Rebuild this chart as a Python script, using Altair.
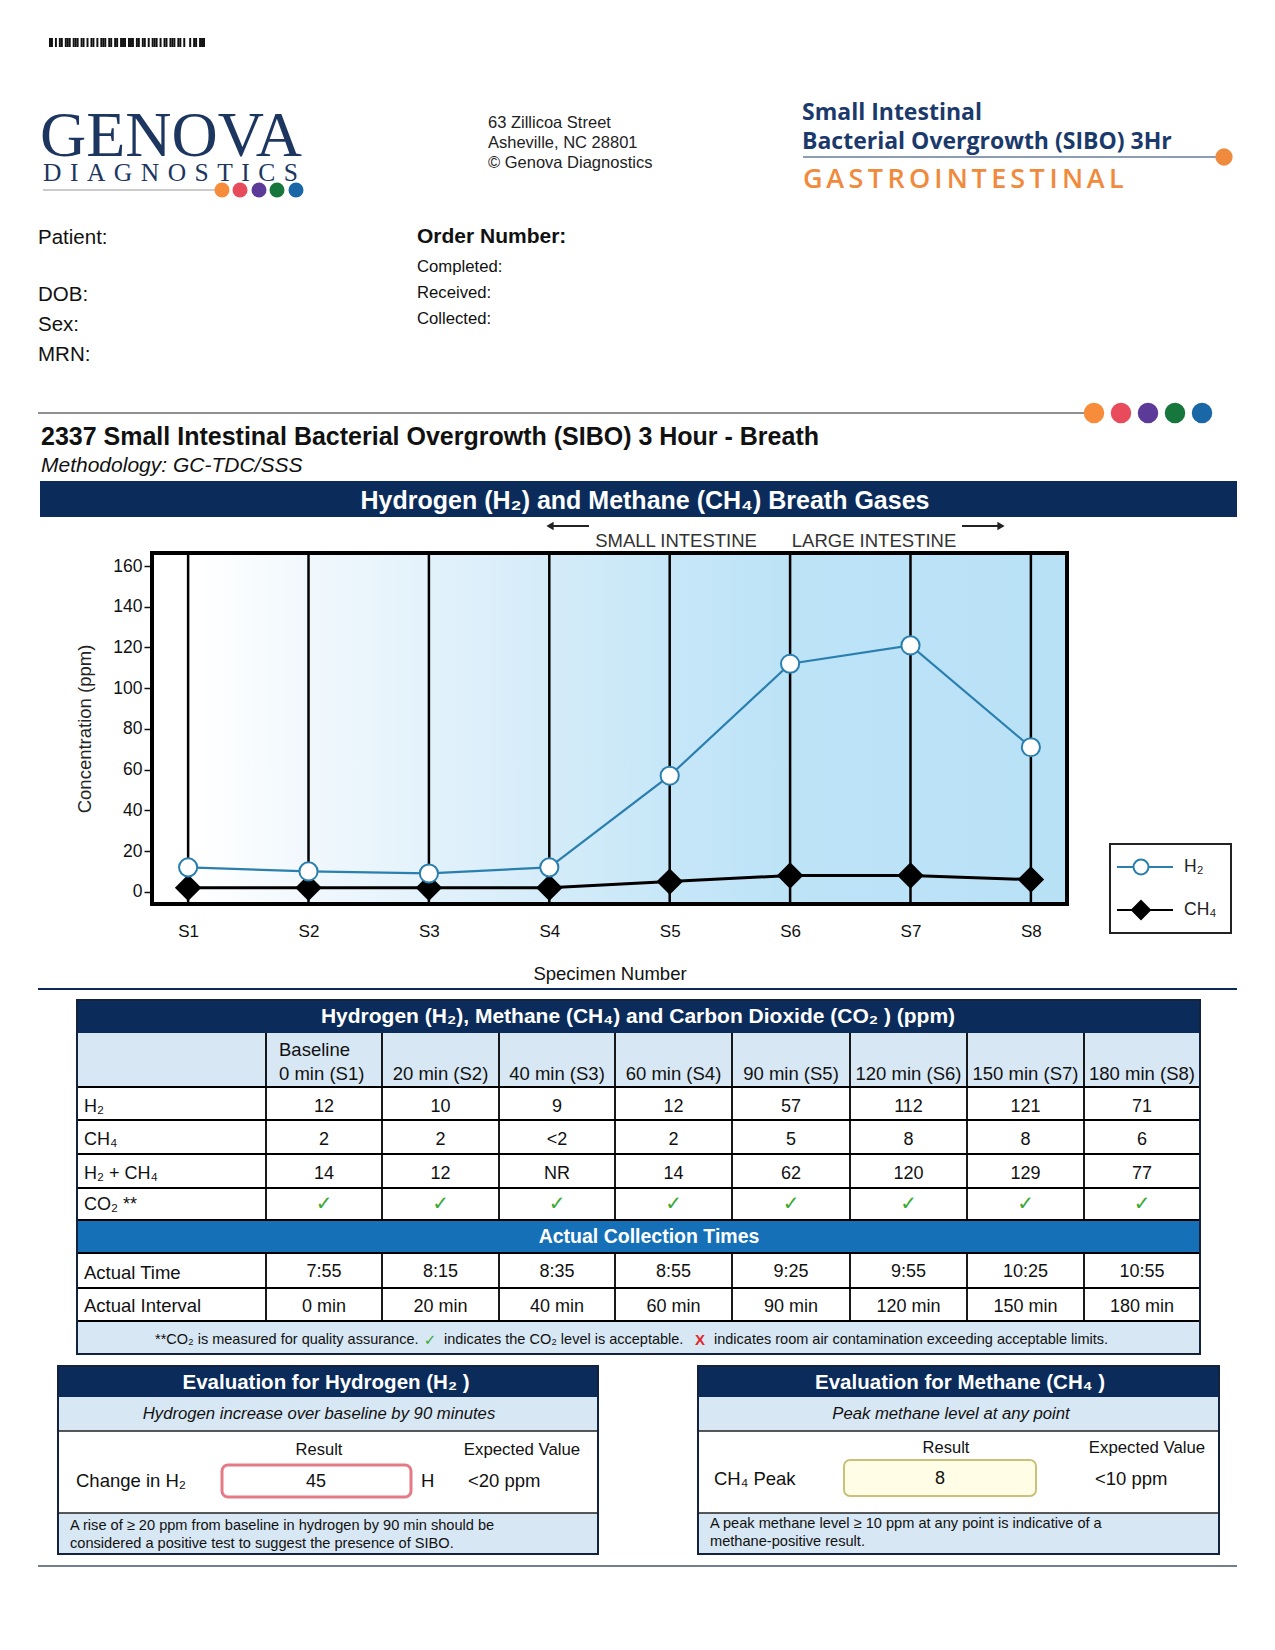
import altair as alt
import pandas as pd

# ------------------------------------------------------------------ data
specimens = ["S1", "S2", "S3", "S4", "S5", "S6", "S7", "S8"]
specimen_num = [1, 2, 3, 4, 5, 6, 7, 8]
h2_ppm = [12, 10, 9, 12, 57, 112, 121, 71]
ch4_ppm = [2, 2, 2, 2, 5, 8, 8, 6]          # S3 reported "<2", plotted at 2
series_names = ["H₂", "CH₄"]
y_tick_values = [0, 20, 40, 60, 80, 100, 120, 140, 160]

col_headers = ["0 min (S1)", "20 min (S2)", "40 min (S3)", "60 min (S4)",
               "90 min (S5)", "120 min (S6)", "150 min (S7)", "180 min (S8)"]
row_labels = ["H₂", "CH₄", "H₂ + CH₄", "CO₂ **"]
h2_row = ["12", "10", "9", "12", "57", "112", "121", "71"]
ch4_row = ["2", "2", "<2", "2", "5", "8", "8", "6"]
sum_row = ["14", "12", "NR", "14", "62", "120", "129", "77"]
co2_row = ["✓", "✓", "✓", "✓", "✓", "✓", "✓", "✓"]
actual_time = ["7:55", "8:15", "8:35", "8:55", "9:25", "9:55", "10:25", "10:55"]
actual_interval = ["0 min", "20 min", "40 min", "60 min", "90 min", "120 min", "150 min", "180 min"]

h2_change = "45"
ch4_peak = "8"

# ------------------------------------------------------------------ layout / style
W, H = 1259, 1634
OFF = 8

SANS = "Liberation Sans, Arial, Helvetica, DejaVu Sans, sans-serif"
SERIF = "Liberation Serif, Times New Roman, serif"
OPEN = "Open Sans, Liberation Sans, sans-serif"
SYM = "DejaVu Sans, Liberation Sans, sans-serif"

NAVY = "#0b2c5a"
MIDBLUE = "#1570b7"
LIGHT = "#d7e7f3"
INK = "#111111"
H2_BLUE = "#2b7fae"
LOGO_NAVY = "#1c365f"
ORANGE = "#f08a3c"
DOT_COLORS = ["#f78d3b", "#e84c5c", "#5b3a98", "#16763c", "#1a67a8"]


def pxy():
    return dict(x=alt.X("x:Q", scale=None, axis=None), y=alt.Y("y:Q", scale=None, axis=None))


def texts(rows, align="left", weight="normal", style="normal", font=SANS, baseline="middle"):
    df = pd.DataFrame(rows, columns=["x", "y", "text", "size", "color"])
    df["x"] = df["x"] - OFF
    df["y"] = df["y"] - OFF
    return alt.Chart(df).mark_text(align=align, baseline=baseline, fontWeight=weight,
                                   fontStyle=style, font=font).encode(
        text=alt.Text("text:N"),
        size=alt.Size("size:Q", scale=None, legend=None),
        color=alt.Color("color:N", scale=None, legend=None),
        **pxy(),
    )


def box_df(rows, cols):
    df = pd.DataFrame(rows, columns=cols)
    for c in ["x", "x2", "y", "y2"]:
        df[c] = df[c] - OFF
    return df


def rects(rows):
    df = box_df(rows, ["x", "x2", "y", "y2", "color"])
    return alt.Chart(df).mark_rect().encode(
        x2="x2:Q", y2="y2:Q",
        color=alt.Color("color:N", scale=None, legend=None), **pxy())


def borders(rows):
    df = box_df(rows, ["x", "x2", "y", "y2", "color", "sw"])
    return alt.Chart(df).mark_rect(filled=False).encode(
        x2="x2:Q", y2="y2:Q",
        color=alt.Color("color:N", scale=None, legend=None),
        strokeWidth=alt.StrokeWidth("sw:Q", scale=None, legend=None), **pxy())


def rounded(row, fill, stroke, sw):
    df = box_df([row], ["x", "x2", "y", "y2"])
    return alt.Chart(df).mark_rect(cornerRadius=6, fill=fill, stroke=stroke, strokeWidth=sw).encode(
        x2="x2:Q", y2="y2:Q", **pxy())


def rules(rows):
    df = box_df(rows, ["x", "x2", "y", "y2", "color", "sw"])
    return alt.Chart(df).mark_rule().encode(
        x2="x2:Q", y2="y2:Q",
        color=alt.Color("color:N", scale=None, legend=None),
        strokeWidth=alt.StrokeWidth("sw:Q", scale=None, legend=None), **pxy())


def dots(rows):
    df = pd.DataFrame(rows, columns=["x", "y", "size", "color"])
    df["x"] = df["x"] - OFF
    df["y"] = df["y"] - OFF
    return alt.Chart(df).mark_circle(opacity=1).encode(
        size=alt.Size("size:Q", scale=None, legend=None),
        color=alt.Color("color:N", scale=None, legend=None), **pxy())


layers = []

# ------------------------------------------------------------------ filled panels
barcode = "1101011011101110110101101011101101101110111011011010111010110111011010010110111"
bw = 156 / len(barcode)
bar_rows = [(49 + i * bw, 49 + (i + 1) * bw, 38, 47, "#111111")
            for i, b in enumerate(barcode) if b == "1"]

fill_rects = bar_rows + [
    (40, 1237, 481, 517, NAVY),          # chart banner
    (77, 1200, 1000, 1033, NAVY),        # table title
    (77, 1200, 1033, 1087, LIGHT),       # column headers
    (77, 1200, 1220, 1253, MIDBLUE),     # collection times bar
    (77, 1200, 1321, 1354, LIGHT),       # footnote
    (58, 598, 1366, 1397, NAVY),
    (58, 598, 1397, 1431, LIGHT),
    (58, 598, 1513, 1554, LIGHT),
    (698, 1219, 1366, 1397, NAVY),
    (698, 1219, 1397, 1431, LIGHT),
    (698, 1219, 1513, 1554, LIGHT),
]
layers.append(rects(fill_rects))

# ------------------------------------------------------------------ chart (data through scales)
X_LO, X_HI = 0.7, 8.3
Y_LO, Y_HI = -6, 166.4
x_scale = alt.Scale(domain=[X_LO, X_HI], range=[152 - OFF, 1067 - OFF], nice=False, zero=False)
y_scale = alt.Scale(domain=[Y_LO, Y_HI], range=[904 - OFF, 553 - OFF], nice=False, zero=False)

x_axis = alt.Axis(values=specimen_num, labelExpr="'S' + datum.value", grid=False, domain=False,
                  ticks=False, labelFontSize=17, labelFont=SANS, labelColor=INK, labelPadding=19,
                  title="Specimen Number", titleFont=SANS, titleFontSize=18.5, titleFontWeight="normal",
                  titleColor=INK, titlePadding=25, offset=(904 - OFF) - H)
y_axis = alt.Axis(values=y_tick_values, grid=False, domain=False, ticks=True, tickSize=8,
                  tickWidth=1.5, tickColor=INK, labelFontSize=17.5, labelFont=SANS, labelColor=INK,
                  labelPadding=2, title="Concentration (ppm)", titleFont=SANS, titleFontSize=18.5,
                  titleFontWeight="normal", titleColor="#222222", titlePadding=18,
                  offset=-(152 - OFF))


def xenc():
    return alt.X("spec:Q", scale=x_scale, axis=x_axis)


def yenc():
    return alt.Y("ppm:Q", scale=y_scale, axis=y_axis)


frame_df = pd.DataFrame({"spec": [X_LO], "spec2": [X_HI], "ppm": [Y_LO], "ppm2": [Y_HI]})
gradient = {
    "gradient": "linear", "x1": 0, "y1": 0, "x2": 1, "y2": 0,
    "stops": [
        {"offset": 0.0, "color": "#ffffff"},
        {"offset": 0.05, "color": "#ffffff"},
        {"offset": 0.17, "color": "#f1f8fd"},
        {"offset": 0.30, "color": "#e3f2fb"},
        {"offset": 0.43, "color": "#d5ecf9"},
        {"offset": 0.56, "color": "#c7e7f8"},
        {"offset": 0.69, "color": "#bde3f7"},
        {"offset": 1.0, "color": "#b9e1f6"},
    ],
}
layers.append(alt.Chart(frame_df).mark_rect(fill=gradient).encode(
    x=xenc(), x2="spec2:Q", y=yenc(), y2="ppm2:Q"))

grid_df = pd.DataFrame({"spec": specimen_num, "ppm": [Y_LO] * 8, "ppm2": [Y_HI] * 8})
layers.append(alt.Chart(grid_df).mark_rule(color="#000000", strokeWidth=2.5).encode(
    x=xenc(), y=yenc(), y2="ppm2:Q"))

ch4_df = pd.DataFrame({"spec": specimen_num, "ppm": ch4_ppm})
h2_df = pd.DataFrame({"spec": specimen_num, "ppm": h2_ppm})

layers.append(alt.Chart(ch4_df).mark_line(color="#000000", strokeWidth=3).encode(x=xenc(), y=yenc()))
layers.append(alt.Chart(h2_df).mark_line(color=H2_BLUE, strokeWidth=2.2).encode(x=xenc(), y=yenc()))
layers.append(alt.Chart(frame_df).mark_rect(fillOpacity=0, stroke="#000000", strokeWidth=4).encode(
    x=xenc(), x2="spec2:Q", y=yenc(), y2="ppm2:Q"))
layers.append(alt.Chart(ch4_df).mark_point(shape="diamond", filled=True, color="#000000",
                                           size=700, opacity=1).encode(x=xenc(), y=yenc()))
layers.append(alt.Chart(h2_df).mark_point(shape="circle", filled=True, fill="#ffffff",
                                          stroke=H2_BLUE, strokeWidth=2, size=330,
                                          opacity=1).encode(x=xenc(), y=yenc()))

# legend: a real Vega-Lite legend; symbols are custom paths from the shape scale.
# The carrier marks sit outside the page so only the legend is visible.
H2_PATH = "M-2.4,0H-0.75M0.75,0H3.2M0.75,0A0.75,0.75,0,1,1,-0.75,0A0.75,0.75,0,1,1,0.75,0Z"
CH4_PATH = "M-2.4,0H3.2M0,-0.9L0.9,0L0,0.9L-0.9,0Z"
leg = alt.Legend(title=None, orient="none", legendX=1106, legendY=832,
                 padding=16, rowPadding=18, symbolSize=400, symbolStrokeWidth=2,
                 symbolOpacity=1, labelFontSize=17.5, labelOffset=32, labelColor="#222222",
                 labelFont=SANS)
legend_df = pd.DataFrame({"series": series_names})
layers.append(alt.Chart(legend_df).mark_point(filled=True, size=10, opacity=1).encode(
    x=alt.value(-500), y=alt.value(-500),
    shape=alt.Shape("series:N", scale=alt.Scale(domain=series_names, range=[H2_PATH, CH4_PATH]), legend=leg),
    fill=alt.Fill("series:N", scale=alt.Scale(domain=series_names, range=["#ffffff", "#000000"]), legend=leg),
    stroke=alt.Stroke("series:N", scale=alt.Scale(domain=series_names, range=[H2_BLUE, "#000000"]), legend=leg),
))

# ------------------------------------------------------------------ lines
col_bounds = [77, 266, 382, 499, 615, 732, 850, 967, 1084, 1200]
line_rows = [
    (43, 222, 190, 190, "#9a9a9a", 1.2),
    (803, 1217, 157, 157, "#1b3a6b", 1.2),
    (38, 1094, 413, 413, "#6b6b6b", 1.5),
    (38, 1237, 989, 989, NAVY, 2),
    (38, 1237, 1566, 1566, "#445566", 1.5),
    (553, 589, 526, 526, "#222222", 1.8),
    (962, 998, 526, 526, "#222222", 1.8),
]
for yy in [1087, 1120, 1154, 1188, 1220, 1253, 1288, 1321]:
    line_rows.append((77, 1200, yy, yy, "#000000", 1.8))
for b in col_bounds[1:-1]:
    line_rows.append((b, b, 1033, 1220, "#000000", 1.8))
    line_rows.append((b, b, 1253, 1321, "#000000", 1.8))
for x0, x1 in [(58, 598), (698, 1219)]:
    line_rows.append((x0, x1, 1431, 1431, "#222222", 1.5))
    line_rows.append((x0, x1, 1513, 1513, "#222222", 1.5))
layers.append(rules(line_rows))

# arrow heads
for ax, shp in [(550, "triangle-left"), (1001, "triangle-right")]:
    layers.append(alt.Chart(pd.DataFrame({"x": [ax - OFF], "y": [526 - OFF]})).mark_point(
        shape=shp, filled=True, color="#222222", size=70, opacity=1).encode(**pxy()))

# borders
layers.append(borders([
    (77, 1200, 1000, 1354, "#14233d", 2),
    (58, 598, 1366, 1554, "#14233d", 2),
    (698, 1219, 1366, 1554, "#14233d", 2),
    (1110, 1231, 844, 933, "#222222", 2),
]))
layers.append(rounded((222, 411, 1465, 1497), "#ffffff", "#e57a86", 3))
layers.append(rounded((844, 1036, 1460, 1496), "#fffde6", "#c9c07a", 2))

# dots
dot_rows = [(x, 190, 225, c) for x, c in zip([222, 240, 259, 277, 296], DOT_COLORS)]
dot_rows += [(1224, 157, 300, ORANGE)]
dot_rows += [(x, 413, 420, c) for x, c in zip([1094, 1121, 1148, 1175, 1202], DOT_COLORS)]
layers.append(dots(dot_rows))

# ------------------------------------------------------------------ texts
layers.append(texts([(171, 156, "GENOVA", 64, LOGO_NAVY)],
                    align="center", font=SERIF, baseline="alphabetic"))
layers.append(texts([(43, 181, "\u2004".join("DIAGNOSTICS"), 25.5, LOGO_NAVY)],
                    align="left", font=SERIF, baseline="alphabetic"))

adv = {"G": .70, "A": .66, "S": .55, "T": .57, "R": .63, "O": .77, "I": .30, "N": .76, "E": .54, "L": .52}
gx, g_rows = 803, []
for ch in "GASTROINTESTINAL":
    g_rows.append((gx, 188, ch, 27, ORANGE))
    gx += adv[ch] * 27 + 4.4
layers.append(texts(g_rows, font=OPEN, weight=600, baseline="alphabetic"))
layers.append(texts([(802, 120, "Small Intestinal", 23, "#1b3a6b"),
                     (802, 149, "Bacterial Overgrowth (SIBO) 3Hr", 23, "#1b3a6b")],
                    font=OPEN, weight="bold", baseline="alphabetic"))

left_normal = [
    (488, 123, "63 Zillicoa Street", 16.5, "#222222"),
    (488, 143, "Asheville, NC  28801", 16.5, "#222222"),
    (488, 163, "© Genova Diagnostics", 16.5, "#222222"),
    (38, 238, "Patient:", 20.5, INK),
    (38, 295, "DOB:", 20.5, INK),
    (38, 325, "Sex:", 20.5, INK),
    (38, 355, "MRN:", 20.5, INK),
    (417, 267, "Completed:", 16.7, INK),
    (417, 293, "Received:", 16.7, INK),
    (417, 319, "Collected:", 16.7, INK),
    (279, 1050, "Baseline", 18.5, INK),
    (279, 1074, col_headers[0], 18.5, INK),
    (84, 1273, "Actual Time", 18.5, INK),
    (84, 1306, "Actual Interval", 18.5, INK),
    (76, 1481, "Change in H₂", 18.5, INK),
    (421, 1481, "H", 18.5, INK),
    (468, 1481, "<20 ppm", 18.5, INK),
    (714, 1479, "CH₄ Peak", 18.5, INK),
    (1095, 1479, "<10 ppm", 18.5, INK),
    (70, 1526, "A rise of ≥ 20 ppm from baseline in hydrogen by 90 min should be", 14.6, INK),
    (70, 1544, "considered a positive test to suggest the presence of SIBO.", 14.6, INK),
    (710, 1524, "A peak methane level ≥ 10 ppm at any point is indicative of a", 14.6, INK),
    (710, 1542, "methane-positive result.", 14.6, INK),
    (155, 1340, "**CO₂ is measured for quality assurance.", 14.5, INK),
    (444, 1340, "indicates the CO₂ level is acceptable.", 14.5, INK),
    (714, 1340, "indicates room air contamination exceeding acceptable limits.", 14.5, INK),
]
row_ys = [1107, 1140, 1174, 1205]
for lab, yy in zip(row_labels, row_ys):
    left_normal.append((84, yy, lab, 18, INK))
layers.append(texts(left_normal))

centers = [(col_bounds[i + 1] + col_bounds[i + 2]) / 2 for i in range(8)]
center_normal = [
    (676, 541, "SMALL INTESTINE", 18.5, "#333333"),
    (874, 541, "LARGE INTESTINE", 18.5, "#333333"),
    (319, 1450, "Result", 16.5, INK),
    (522, 1450, "Expected Value", 16.8, INK),
    (316, 1482, h2_change, 18, INK),
    (946, 1448, "Result", 16.5, INK),
    (1147, 1448, "Expected Value", 16.8, INK),
    (940, 1479, ch4_peak, 18, INK),
]
for i in range(1, 8):
    center_normal.append((centers[i], 1074, col_headers[i], 18.5, INK))
for row, yy in zip([h2_row, ch4_row, sum_row], row_ys[:3]):
    for cx, v in zip(centers, row):
        center_normal.append((cx, yy, v, 18, INK))
for row, yy in zip([actual_time, actual_interval], [1272, 1307]):
    for cx, v in zip(centers, row):
        center_normal.append((cx, yy, v, 18, INK))
layers.append(texts(center_normal, align="center"))

layers.append(texts([(cx, 1204, v, 20, "#3aaa35") for cx, v in zip(centers, co2_row)]
                    + [(430, 1340, "✓", 15, "#3aaa35")], align="center", font=SYM))
layers.append(texts([(700, 1340, "X", 15, "#e0262b")], align="center", weight="bold"))

layers.append(texts([
    (645, 501, "Hydrogen (H₂) and Methane (CH₄) Breath Gases", 25, "#ffffff"),
    (638, 1017, "Hydrogen (H₂), Methane (CH₄) and Carbon Dioxide (CO₂ ) (ppm)", 21, "#ffffff"),
    (649, 1237, "Actual Collection Times", 19.5, "#ffffff"),
    (326, 1383, "Evaluation for Hydrogen (H₂ )", 20.5, "#ffffff"),
    (960, 1383, "Evaluation for Methane (CH₄ )", 20.5, "#ffffff"),
], align="center", weight="bold"))

layers.append(texts([
    (417, 237, "Order Number:", 21, INK),
    (41, 437, "2337 Small Intestinal Bacterial Overgrowth (SIBO) 3 Hour - Breath", 25, INK),
], weight="bold"))
layers.append(texts([(41, 466, "Methodology: GC-TDC/SSS", 21, INK)], style="italic"))
layers.append(texts([
    (319, 1414, "Hydrogen increase over baseline by 90 minutes", 16.7, INK),
    (951, 1414, "Peak methane level at any point", 16.7, INK),
], align="center", style="italic"))

chart = alt.layer(*layers).properties(
    width=W, height=H, padding=0, autosize=alt.AutoSizeParams(type="none")
).configure_view(stroke=None)

chart.save("out.html", embed_options={"renderer": "svg", "actions": False})
